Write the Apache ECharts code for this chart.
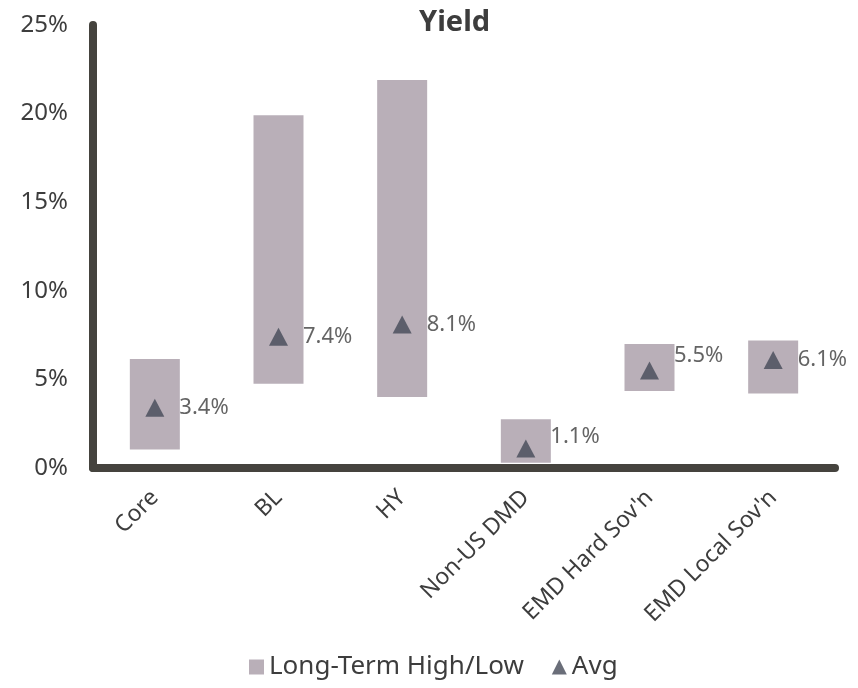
<!DOCTYPE html>
<html>
<head>
<meta charset="utf-8">
<script src="https://cdn.jsdelivr.net/npm/echarts@6/dist/echarts.min.js"></script>
<style>
  html, body { margin: 0; padding: 0; background: #fff; }
  #main { width: 858px; height: 688px; }
</style>
</head>
<body>
<div id="main"></div>
<script>
// categories and values
var categories = ['Core', 'BL', 'HY', 'Non-US DMD', "EMD Hard Sov'n", "EMD Local Sov'n"];
var lowVals  = [1.05, 4.75, 4.0, 0.3, 4.35, 4.2];
var highVals = [6.15, 19.9, 21.9, 2.75, 7.0, 7.2];
var avgVals  = [3.4, 7.4, 8.1, 1.1, 5.5, 6.1];
var yTicks = [0, 5, 10, 15, 20, 25];

var textColor = '#3d3d3d';
var axisColor = '#45433e';
var barColor = '#b9afb8';
var triColor = '#454a57';
var font = 'Noto Sans';

// floating bar = transparent base + visible span
var spanVals = highVals.map(function (h, i) {
    return +(h - lowVals[i]).toFixed(2);
});

// a couple of labels sit a little higher in the original
var labelLift = { 3: -12, 4: -15 };
var avgData = avgVals.map(function (v, i) {
    var item = { value: v };
    if (labelLift[i]) {
        item.label = { offset: [0, labelLift[i]] };
    }
    return item;
});

var myChart = echarts.init(document.getElementById('main'));

var option = {
    backgroundColor: '#fff',
    animation: false,
    title: {
        text: 'Yield',
        left: 414,
        top: 3,
        textStyle: {
            fontFamily: font,
            fontSize: 29,
            fontWeight: 'bold',
            color: textColor
        }
    },
    legend: {
        bottom: 3,
        left: 244,
        itemWidth: 15,
        itemHeight: 15,
        itemGap: 28,
        data: [
            { name: 'Long-Term High/Low', icon: 'rect' },
            { name: 'Avg', icon: 'triangle' }
        ],
        textStyle: {
            fontFamily: font,
            fontSize: 26,
            color: textColor
        }
    },
    grid: {
        left: 93,
        right: 23,
        top: 25,
        bottom: 220,
        containLabel: false
    },
    xAxis: {
        type: 'category',
        data: categories,
        boundaryGap: true,
        axisLine: { show: true, lineStyle: { color: axisColor, width: 8 } },
        axisTick: { show: false },
        axisLabel: {
            rotate: 45,
            margin: 26,
            interval: 0,
            fontFamily: font,
            fontSize: 23,
            color: textColor
        }
    },
    yAxis: {
        type: 'value',
        min: yTicks[0],
        max: yTicks[yTicks.length - 1],
        interval: 5,
        axisLine: { show: true, lineStyle: { color: axisColor, width: 8 } },
        axisTick: { show: false },
        splitLine: { show: false },
        axisLabel: {
            formatter: '{value}%',
            margin: 25,
            fontFamily: font,
            fontSize: 24,
            color: textColor
        }
    },
    series: [
        {
            name: 'base',
            type: 'bar',
            stack: 'range',
            barWidth: 50,
            silent: true,
            itemStyle: { color: 'transparent' },
            data: lowVals
        },
        {
            name: 'Long-Term High/Low',
            type: 'bar',
            stack: 'range',
            barWidth: 50,
            itemStyle: { color: barColor },
            data: spanVals
        },
        {
            name: 'Avg',
            type: 'scatter',
            symbol: 'triangle',
            symbolSize: [19, 18],
            itemStyle: { color: triColor },
            z: 5,
            label: {
                show: true,
                position: 'right',
                distance: 15,
                formatter: '{c}%',
                fontFamily: font,
                fontSize: 22,
                color: textColor
            },
            data: avgData
        }
    ]
};

myChart.setOption(option);
</script>
</body>
</html>
